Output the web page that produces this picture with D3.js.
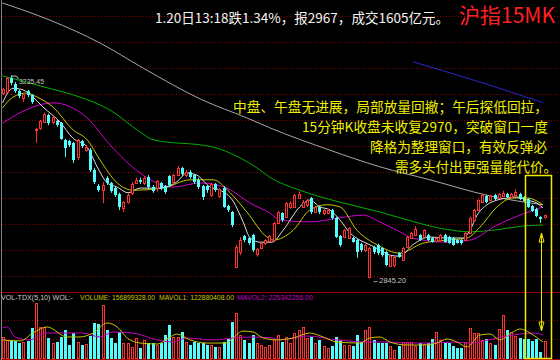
<!DOCTYPE html>
<html><head><meta charset="utf-8">
<script src="https://cdn.jsdelivr.net/npm/d3@7"></script>
<style>html,body{margin:0;padding:0;background:#000;}svg{display:block}</style>
</head><body>
<svg id="c" width="560" height="360"></svg>
<script>
// ---------- DATA ----------
const openP = [3202,3204,3231,3219,3206,3192,3206,3198,3131,3135,
3146,3160,3146,3148,3144,3112,3110,3106,3079,3110,
3092,3092,3054,3023,3015,3039,3029,3019,3008,2981,
2992,3010,3029,3035,3029,3040,3021,3019,3029,3023,
3042,3031,3044,3058,3044,3050,3044,3035,3023,3023,
3006,3027,3004,3019,2985,2973,2867,2896,2927,2923,
2929,2892,2904,2914,2917,2919,2952,2971,2964,2983,
2983,3000,2983,2987,3000,2973,2983,2971,2971,2977,
2962,2927,2925,2923,2923,2919,2912,2900,2848,2906,
2910,2904,2896,2869,2871,2894,2881,2906,2923,2929,
2929,2925,2929,2923,2917,2919,2929,2925,2923,2919,
2919,2919,2933,2958,2977,2992,3004,2996,3006,3000,
3004,3008,3002,3006,3008,3002,2998,2985,2979,2964,
2963.5];
const highP = [3212,3233,3235.45,3223,3208,3202,3208,3200,3135,3150,
3164,3162,3158,3150,3146,3114,3112,3108,3114,3112,
3102,3096,3058,3027,3031,3042,3031,3023,3010,2994,
3010,3031,3039,3039,3042,3044,3025,3035,3031,3025,
3044,3046,3062,3060,3054,3054,3046,3039,3025,3025,
3029,3029,3019,3023,2987,2975,2910,2925,2929,2925,
2931,2904,2915,2921,2929,2954,2975,2973,2992,2994,
3008,3013,2996,2998,3002,2985,2985,2979,2979,2979,
2964,2929,2940,2944,2925,2921,2914,2912,2906,2908,
2912,2906,2898,2890,2889,2896,2906,2927,2935,2946,
2931,2940,2931,2925,2925,2931,2931,2927,2925,2921,
2921,2935,2964,2979,2998,3008,3006,3006,3008,3010,
3014,3010,3010,3017,3010,3004,3000,2987,2981,2965,
2967.5];
const lowP = [3198,3202,3217,3202,3192,3185,3194,3181,3106,3131,
3144,3140,3142,3137,3112,3079,3098,3067,3073,3096,
3089,3050,3027,3012,2990,3025,3010,3002,2977,2973,
2989,3006,3027,3027,3025,3017,3010,3012,3015,3008,
3021,3027,3042,3042,3040,3037,3027,3017,2996,3010,
3002,3012,3000,2981,2973,2944,2865,2890,2915,2910,
2896,2887,2902,2910,2915,2917,2950,2954,2962,2979,
2981,2998,2981,2983,2969,2971,2969,2967,2969,2958,
2923,2906,2923,2921,2914,2885,2896,2896,2845.2,2892,
2890,2887,2869,2867,2867,2885,2879,2904,2921,2927,
2917,2923,2917,2914,2915,2917,2914,2912,2908,2912,
2910,2917,2931,2956,2975,2990,2990,2994,2996,2998,
3002,3000,3000,3004,2996,2992,2981,2973,2963,2952,
2960];
const closeP = [3210,3231,3221,3206,3196,3200,3198,3185,3133,3148,
3162,3144,3156,3140,3114,3096,3102,3073,3112,3100,
3098,3054,3031,3015,3025,3029,3014,3006,2983,2992,
3006,3027,3035,3031,3039,3021,3014,3033,3019,3012,
3025,3044,3058,3046,3050,3040,3031,3021,3002,3015,
3027,3015,3017,2983,2977,2948,2906,2919,2919,2914,
2900,2902,2914,2919,2927,2952,2973,2958,2990,2990,
3006,3008,2992,2996,2973,2983,2973,2977,2977,2962,
2925,2910,2939,2942,2915,2896,2900,2910,2904,2896,
2894,2890,2871,2889,2887,2887,2904,2925,2933,2940,
2919,2939,2919,2915,2923,2929,2915,2914,2910,2914,
2914,2933,2962,2977,2996,3006,2992,3004,2998,3008,
3010,3002,3008,3012,2998,2994,2983,2975,2965,2960,
2967];
// volume, millions
const volume = [191,164,164,155,136,145,155,273,500,282,
282,182,136,145,191,255,118,227,145,118,
127,200,318,309,482,255,182,136,236,136,
136,100,182,91,164,136,136,118,136,209,
300,191,191,236,145,118,145,136,136,118,
118,100,100,145,173,327,409,209,164,136,
209,136,118,100,118,173,209,145,191,136,
227,255,282,182,191,136,164,109,91,109,
191,164,118,118,109,209,145,255,282,164,
136,136,136,109,73,109,145,145,145,109,
136,127,136,173,236,164,145,136,109,91,
91,145,273,227,227,164,173,136,118,264,
391,255,236,200,182,173,173,155,173,55,
156.9];
// moving-average lines: [bar index, value]
const ma5 = [[0,3183],[2.5,3211],[4.9,3208],[7.3,3194],[9.7,3175],[13.8,3146],[16.9,3115],[20.3,3098],[22.7,3060],[25.1,3029],[27.5,3021],[30.1,3010],[33,3019],[37.1,3019],[41.8,3031],[44.2,3048],[46.6,3044],[49.8,3021],[52.2,3015],[55.3,2994],[57.7,2954],[59.4,2923],[61.8,2915],[64.6,2915],[67.3,2938],[71.3,2983],[73.7,2996],[76.1,2983],[78.5,2977],[80.9,2958],[83.3,2933],[85.7,2919],[88.1,2910],[90.5,2900],[92.9,2890],[95.3,2888],[98.4,2910],[102.5,2925],[106.6,2923],[110.4,2923],[112.1,2938],[113.8,2967],[116.2,2987],[118.6,2996],[121,3000],[123.4,3002],[125.8,2996],[128.2,2990],[129.6,2981]];
const ma10 = [[0,3173],[2.5,3194],[5.9,3202],[8.3,3194],[12.1,3175],[16.9,3131],[20.3,3112],[23.4,3073],[27.5,3029],[31.3,3015],[38.5,3019],[45,3035],[50.5,3035],[54.6,3010],[58.6,2973],[63.4,2925],[64.9,2919],[69.7,2938],[73.7,2977],[77.8,2987],[80.9,2983],[85,2938],[89.8,2910],[95.3,2894],[100.8,2913],[106.6,2919],[111.4,2923],[114.5,2944],[118.6,2983],[122.4,3000],[125.8,3000],[129.6,2987]];
const ma20 = [[0,3144],[7.3,3175],[12.1,3183],[20.3,3154],[25.8,3102],[33,3048],[40.9,3021],[47.4,3029],[53.8,3019],[59.4,2990],[64.1,2971],[66.5,2958],[73.7,2954],[80.9,2962],[86.5,2967],[90.5,2954],[95.3,2935],[98.4,2923],[106.6,2915],[112.1,2919],[118.6,2948],[124.1,2967],[129.6,2983]];
const ma60 = [[0,3235],[10.7,3212],[18.6,3194],[25.8,3169],[33,3127],[36.1,3112],[50.5,3098],[57,3077],[61,3058],[64.1,3040],[71.3,3015],[80.9,2992],[90.5,2973],[95.3,2962],[104.9,2942],[112.1,2935],[118.6,2939],[124.8,2946],[129.6,2948]];
const maLong = [[0,3375],[11.4,3342],[23.4,3298],[33.7,3250],[47.8,3189],[58.6,3154],[64.1,3135],[78.5,3092],[90.5,3060],[102.5,3035],[116.9,3004],[129.6,2987]];
const maBlue = [[98.4,3262],[114.5,3223],[129.7,3183]];
const mavol1 = [[0,164],[4.2,155],[7.3,227],[10.7,282],[15.5,191],[18.6,191],[21.7,227],[25.1,318],[27.5,282],[29.9,182],[33,136],[37.1,127],[40.2,191],[41.8,218],[45,164],[49,136],[53.8,136],[55.3,182],[57.7,245],[60.1,236],[62.5,182],[65.8,164],[69.7,182],[73.7,227],[76.9,191],[80.2,145],[85.7,136],[88.1,182],[90.5,191],[92.9,145],[97,118],[100.8,118],[104.2,136],[106.6,173],[109,145],[111.4,100],[114.5,209],[116.9,218],[119.3,164],[122.4,236],[124.1,264],[126.5,227],[129.6,145]];
const mavol2 = [[0,273],[1.1,282],[3,191],[6.6,164],[9,209],[10.2,227],[19.3,227],[23.4,191],[26.5,236],[31.3,227],[37.1,164],[40.9,145],[44.2,182],[50.5,164],[55.3,182],[60.1,191],[64.9,182],[66.5,164],[73,200],[80.2,164],[88.1,145],[92.9,145],[98.4,136],[103.2,136],[108,145],[112.1,136],[117.6,173],[122.4,209],[127.2,227],[129.6,209]];
const priceGrid = [2850,2900,2950,3000,3050,3100,3150,3200,3250,3300,3350];
const volGrid = [175,350];
const titleText = "1.20日13:18跌1.34%，报2967，成交1605亿元。";
const badgeText = "沪指15MK";
const noteLines = ["中盘、午盘无进展，局部放量回撤；午后探低回拉，","15分钟K收盘未收复2970，突破窗口一度","降格为整理窗口，有效反弹必","需多头付出更强量能代价。"];
const volLabels = ["VOL-TDX(5,10) WOL:-","VOLUME: 156899328.00","MAVOL1: 122880408.00","MAVOL2: 225342256.00"];

// ---------- DRAW ----------
const svg = d3.select('#c');
svg.append('rect').attr('width',560).attr('height',360).attr('fill','#000');
const N = openP.length;
const x = d3.scaleLinear().domain([0, N-1]).range([2.5, 544.6]);
const y = d3.scaleLinear().domain([2819.2, 3380.8]).range([292, 0]);
const vy = d3.scaleLinear().domain([0, 500]).range([358, 303]);
const px = i => Math.round(x(i));
const RED = '#ff3232', CYAN = '#54fcfc', GRID = '#8c0000';

// grid
svg.append('g').selectAll('line').data(priceGrid).join('line')
  .attr('x1',2).attr('x2',560)
  .attr('y1',d=>Math.round(y(d))+0.5).attr('y2',d=>Math.round(y(d))+0.5)
  .attr('stroke',GRID).attr('stroke-dasharray','1,2');
svg.append('g').selectAll('line').data(volGrid).join('line')
  .attr('x1',2).attr('x2',560)
  .attr('y1',d=>Math.round(vy(d))+0.5).attr('y2',d=>Math.round(vy(d))+0.5)
  .attr('stroke',GRID).attr('stroke-dasharray','1,2');
// panel separators
svg.append('line').attr('x1',0).attr('x2',560).attr('y1',292.5).attr('y2',292.5).attr('stroke','#a00000');
svg.append('line').attr('x1',0).attr('x2',560).attr('y1',359.5).attr('y2',359.5).attr('stroke','#a00000');
svg.append('line').attr('x1',1.5).attr('x2',1.5).attr('y1',0).attr('y2',360).attr('stroke','#808080');

svg.append('clipPath').attr('id','mainclip').append('rect').attr('x',2).attr('y',0).attr('width',558).attr('height',292);

// MA lines (main)
const ln = d3.line().x(d=>x(d[0])).y(d=>y(d[1])).curve(d3.curveMonotoneX);
const mg = svg.append('g').attr('clip-path','url(#mainclip)').attr('fill','none').attr('stroke-width',1);
mg.append('path').attr('d',ln(maLong)).attr('stroke','#a8a8a8');
mg.append('path').attr('d',ln(maBlue)).attr('stroke','#2828c8');
mg.append('path').attr('d',ln(ma60)).attr('stroke','#00b000');
mg.append('path').attr('d',ln(ma20)).attr('stroke','#d000d0');
mg.append('path').attr('d',ln(ma10)).attr('stroke','#c8c800');
mg.append('path').attr('d',ln(ma5)).attr('stroke','#e0e0e0');

// candles
const candles = d3.range(N).map(i=>({i,o:openP[i],h:highP[i],l:lowP[i],c:closeP[i],v:volume[i]}));
const cg = svg.append('g');
candles.forEach(d=>{
  const isUp = d.c >= d.o;
  const col = isUp ? RED : CYAN;
  const cx = px(d.i) + 0.5;
  const top = Math.round(y(Math.max(d.o,d.c)));
  const bot = Math.round(y(Math.min(d.o,d.c)));
  cg.append('line').attr('x1',cx).attr('x2',cx).attr('y1',y(d.h)).attr('y2',y(d.l)).attr('stroke',col);
  if (isUp) {
    cg.append('rect').attr('x',cx-1).attr('y',top+0.5).attr('width',2).attr('height',Math.max(bot-top,1))
      .attr('fill','#000').attr('stroke',col);
  } else {
    cg.append('rect').attr('x',cx-1.5).attr('y',top).attr('width',3).attr('height',Math.max(bot-top,1)).attr('fill',col);
  }
  // volume
  const vt = Math.round(vy(d.v));
  if (isUp) {
    svg.append('rect').attr('x',cx-1).attr('y',vt+0.5).attr('width',2).attr('height',Math.max(358-vt,1))
      .attr('fill','#000').attr('stroke',col);
  } else {
    svg.append('rect').attr('x',cx-1.5).attr('y',vt).attr('width',3).attr('height',Math.max(359-vt,1)).attr('fill',col);
  }
});

// volume MAs
const vln = d3.line().x(d=>x(d[0])).y(d=>vy(d[1])).curve(d3.curveMonotoneX);
svg.append('path').attr('d',vln(mavol2)).attr('fill','none').attr('stroke','#c000c0');
svg.append('path').attr('d',vln(mavol1)).attr('fill','none').attr('stroke','#c8c800');

// high / low labels
const hi = d3.maxIndex(highP), lo = d3.minIndex(lowP);
svg.append('path').attr('d',`M${px(hi)+0.5},${y(highP[hi])+0.5}h5l2,3`).attr('stroke','#c8c8c8').attr('fill','none');
svg.append('text').attr('x',px(hi)+8).attr('y',y(highP[hi])+8.5).text(d3.format('.2f')(highP[hi]))
  .attr('fill','#c8c8c8').attr('font-family','Liberation Sans, Arial, sans-serif').attr('font-size',7.5)
  .attr('textLength',25).attr('lengthAdjust','spacingAndGlyphs');
svg.append('text').attr('x',px(lo)+3).attr('y',y(lowP[lo])+5).text('←'+d3.format('.2f')(lowP[lo]))
  .attr('fill','#c8c8c8').attr('font-family','Liberation Sans, Arial, sans-serif').attr('font-size',7.5)
  .attr('textLength',34).attr('lengthAdjust','spacingAndGlyphs');

// title
const CJK = '"Noto Sans CJK SC", "Noto Sans", sans-serif';
svg.append('text').attr('x',155).attr('y',23).text(titleText).attr('fill','#f4f4f4')
  .attr('font-family',CJK).attr('font-size',13.5).attr('textLength',294).attr('lengthAdjust','spacingAndGlyphs');
svg.append('text').attr('x',459).attr('y',23).text(badgeText).attr('fill','#ff2020')
  .attr('font-family',CJK).attr('font-size',21).attr('textLength',96).attr('lengthAdjust','spacingAndGlyphs');

// annotation
const noteX = [233,302,370,395], noteW = [315,246,177,162], noteY = [112,132,152,172];
noteLines.forEach((t,k)=>{
  svg.append('text').attr('x',noteX[k]).attr('y',noteY[k]).text(t).attr('fill','#f0f000')
    .attr('font-family',CJK).attr('font-size',13.5).attr('textLength',noteW[k]).attr('lengthAdjust','spacingAndGlyphs');
});

// volume labels
const vlX = [1,80,159,237], vlW = [72,75,75,76], vlC = ['#c8c8c8','#c8c800','#c8c800','#c000c0'];
volLabels.forEach((t,k)=>{
  svg.append('text').attr('x',vlX[k]).attr('y',299.5).text(t).attr('fill',vlC[k])
    .attr('font-family','Liberation Sans, Arial, sans-serif').attr('font-size',6.8)
    .attr('textLength',vlW[k]).attr('lengthAdjust','spacingAndGlyphs');
});

// yellow highlight box and arrow
const YEL = '#f0e800';
const bx0 = Math.round(x(125.4))+0.5, bx1 = Math.round(x(131.6))+0.5;
svg.append('rect').attr('x',bx0).attr('y',175.5).attr('width',bx1-bx0).attr('height',183)
  .attr('fill','none').attr('stroke',YEL).attr('stroke-width',1.5);
const ax = Math.round(x(129.2))+0.5;
svg.append('line').attr('x1',ax).attr('x2',ax).attr('y1',234).attr('y2',330).attr('stroke',YEL);
svg.append('path').attr('d',`M${ax},233 l-2.5,9 l5,0 z`).attr('fill','none').attr('stroke',YEL);
svg.append('path').attr('d',`M${ax},331 l-2.5,-9 l5,0 z`).attr('fill','none').attr('stroke',YEL);
</script>
</body></html>
